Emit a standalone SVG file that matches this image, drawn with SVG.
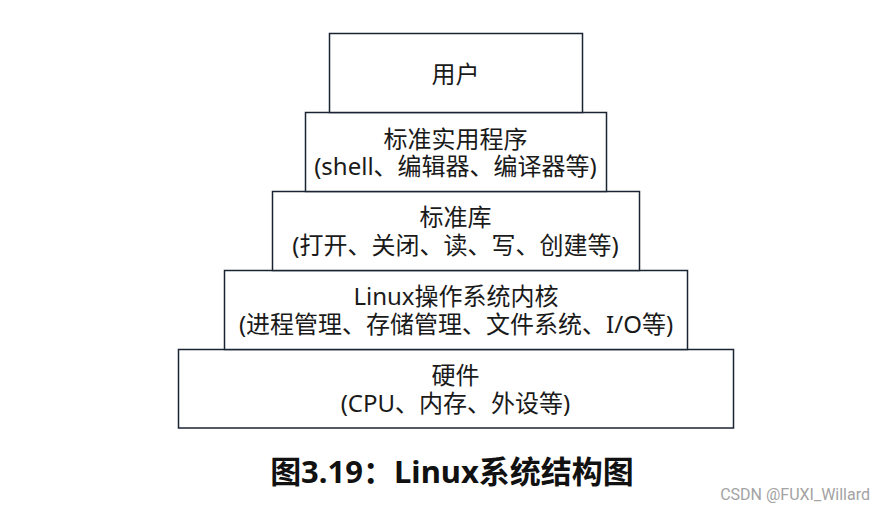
<svg xmlns="http://www.w3.org/2000/svg" width="884" height="512" viewBox="0 0 884 512">
<style>
.box{fill:#ffffff;stroke:#1b2433;stroke-width:1.5}
.t{font-family:"Noto Sans","Noto Sans CJK SC",sans-serif;font-size:24px;fill:#1a1a1a;text-anchor:middle}
.cap{font-family:"Noto Sans","Noto Sans CJK SC",sans-serif;font-size:31px;font-weight:bold;fill:#111111;text-anchor:middle}
.wm{font-family:"Roboto","Liberation Sans",sans-serif;font-size:16px;fill:#a3a3a3;text-anchor:end}
</style>
<rect width="884" height="512" fill="#ffffff"/>
<g id="hardware">
<rect class="box" x="178.5" y="349.5" width="555" height="78.5"/>
<text class="t" x="455.5" y="383.5">硬件</text>
<text class="t" x="455.5" y="411.5">(CPU、内存、外设等)</text>
</g>
<g id="kernel">
<rect class="box" x="224.5" y="270.5" width="463" height="79"/>
<text class="t" x="456" y="304.5">Linux操作系统内核</text>
<text class="t" x="456" y="332.5">(进程管理、存储管理、文件系统、I/O等)</text>
</g>
<g id="stdlib">
<rect class="box" x="272.5" y="191.5" width="367" height="79"/>
<text class="t" x="455.5" y="225.5">标准库</text>
<text class="t" x="455.5" y="253.5">(打开、关闭、读、写、创建等)</text>
</g>
<g id="utilities">
<rect class="box" x="305.5" y="112.5" width="301" height="79"/>
<text class="t" x="455.5" y="147.5">标准实用程序</text>
<text class="t" x="455.5" y="175">(shell、编辑器、编译器等)</text>
</g>
<g id="user">
<rect class="box" x="329.5" y="33.5" width="253" height="79"/>
<text class="t" x="455.5" y="82.5">用户</text>
</g>
<g id="connectors"></g>
<text class="cap" x="452" y="483">图3.19：Linux系统结构图</text>
<text class="wm" x="870" y="500">CSDN @FUXI_Willard</text>
</svg>
